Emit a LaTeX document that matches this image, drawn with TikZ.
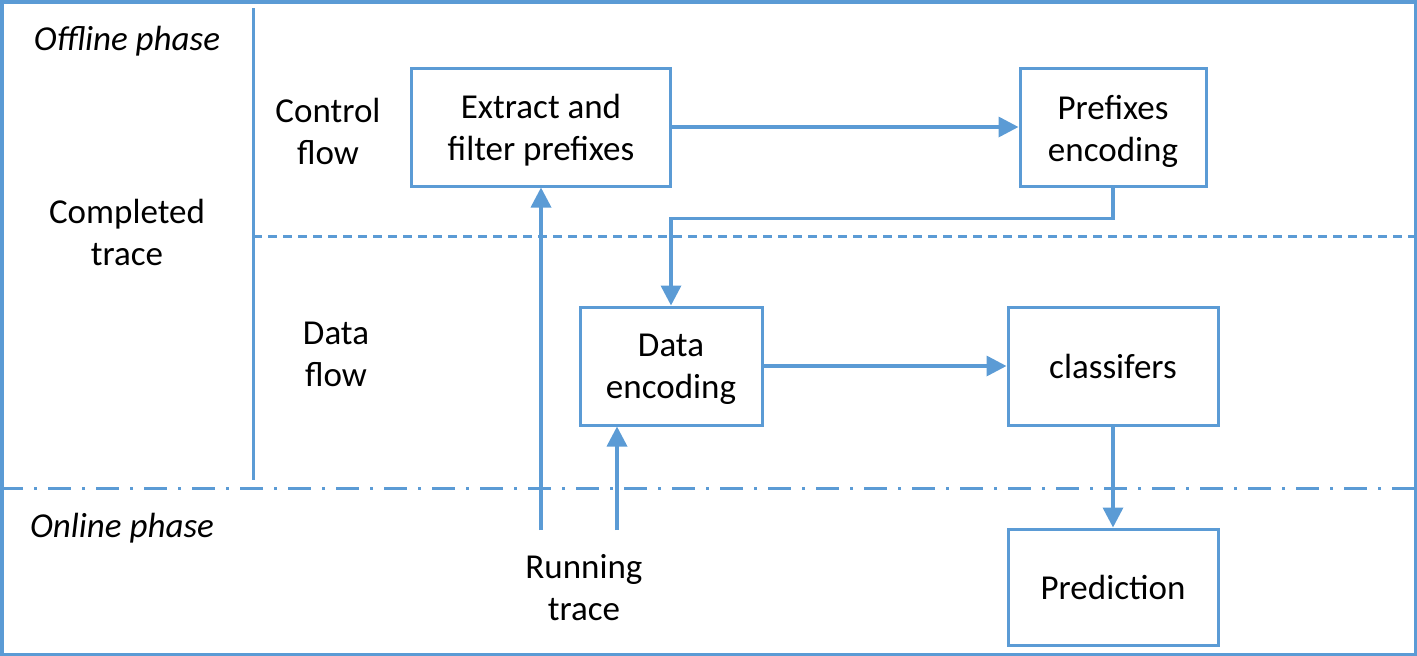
\documentclass[tikz,border=0pt]{standalone}
\usepackage{fontspec}
\setmainfont{Carlito}
\usetikzlibrary{arrows.meta}
\definecolor{lineblue}{RGB}{91,155,213}

\begin{document}
\begin{tikzpicture}[x=1pt,y=-1pt,
  every node/.style={font=\fontsize{35}{42}\selectfont,align=center,inner sep=0pt},
  box/.style={draw=lineblue,line width=3pt,minimum height=118pt},
  arr/.style={draw=lineblue,line width=3.5pt,-{Triangle[width=20pt,length=20pt]}},
  sep/.style={draw=lineblue,line width=3pt}]
\useasboundingbox (0,0) rectangle (1417,656);
% frame and phase lines
\draw[sep,line width=3.5pt] (1.75,1.75) rectangle (1415.25,654.25);
\draw[sep] (253,8) -- (253,480);
\draw[sep,dash pattern=on 9pt off 6pt] (253,236) -- (1417,236);
\draw[sep,dash pattern=on 23pt off 11pt on 3pt off 11pt] (0,488) -- (1417,488);
% labels
\node (off) at (127,41) {\itshape Offline phase};
\node (comp) at (127,232) {Completed\\trace};
\node (cf) at (328,131) {Control\\flow};
\node (df) at (336,354) {Data\\flow};
\node (on) at (122,528) {\itshape Online phase};
\node (run) at (584,588) {Running\\trace};
% boxes
\node[box,minimum width=259pt] (ext) at (541,127) {};
\node[box,minimum width=186pt] (pre) at (1113,127) {};
\node[box,minimum width=182pt] (denc) at (671,366) {};
\node[box,minimum width=210pt] (cls) at (1113,366) {classifers};
\node[box,minimum width=210pt,minimum height=116pt] (pred) at (1113,587) {Prediction};
\node (ext-t) at ([yshift=-3pt]ext.center) {Extract and\\filter prefixes};
\node (pre-t) at ([yshift=-4pt]pre.center) {Prefixes\\encoding};
\node (denc-t) at ([yshift=-3pt]denc.center) {Data\\encoding};
\coordinate (rt1) at (541,530);
\coordinate (rt2) at (617,530);
% connectors
\draw[arr] (ext) -- (pre);
\draw[arr] (pre.south) -- ++(0,31) -| (denc.north);
\draw[arr] (denc) -- (cls);
\draw[arr] (cls) -- (pred);
\draw[arr] (rt1) -- (ext.south);
\draw[arr] (rt2) -- (denc.south -| rt2);
\end{tikzpicture}
\end{document}
